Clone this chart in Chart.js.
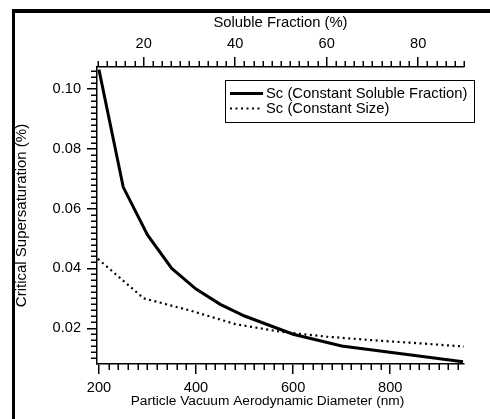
<!DOCTYPE html>
<html>
<head>
<meta charset="utf-8">
<script src="https://cdn.jsdelivr.net/npm/chart.js@4/dist/chart.umd.min.js"></script>
<style>
  html,body{margin:0;padding:0;background:#fff;}
  #wrap{position:relative;width:490px;height:419px;}
  #frame{position:absolute;left:12px;top:9px;width:475px;height:406px;border-top:4px solid #000;border-left:3px solid #000;}
  canvas{position:absolute;left:0;top:0;}
</style>
</head>
<body>
<div id="wrap">
  <div id="frame"></div>
  <canvas id="c" width="490" height="419"></canvas>
</div>
<script>
// particle diameter (nm) -> Sc, constant soluble fraction
const diameters = [200, 250, 300, 350, 400, 450, 500, 600, 700, 950];
const scConstFraction = [0.1065, 0.0672, 0.0512, 0.0400, 0.0331, 0.0280, 0.0241, 0.0180, 0.0141, 0.0088];
// soluble fraction (%) -> Sc, constant size
const solubleFractions = [10, 20, 30, 40, 50, 60, 70, 80, 90];
const scConstSize = [0.0432, 0.0300, 0.0260, 0.0214, 0.0188, 0.0172, 0.0160, 0.0150, 0.0139];

const seriesLabels = ['Sc (Constant Soluble Fraction)', 'Sc (Constant Size)'];
const xTitle = 'Particle Vacuum Aerodynamic Diameter (nm)';

const xTicks = [200, 400, 600, 800];
const x2Ticks = [20, 40, 60, 80];
const yTicks = [0.02, 0.04, 0.06, 0.08, 0.10];

const FONT = 'Arial, "Liberation Sans", Helvetica, sans-serif';

// minor tick marks, drawn through the scales
const minorTicks = {
  id: 'minorTicks',
  afterDraw(chart){
    const ctx = chart.ctx, a = chart.chartArea;
    const sx = chart.scales.x, sx2 = chart.scales.x2, sy = chart.scales.y;
    ctx.save();
    ctx.strokeStyle = '#000'; ctx.lineWidth = 1.5;
    ctx.beginPath();
    for (let v = 200; v <= 940; v += 20) {
      if (v % 200 === 0) continue;
      const p = Math.round(sx.getPixelForValue(v)) + 0.25;
      ctx.moveTo(p, a.bottom); ctx.lineTo(p, a.bottom + 6);
    }
    for (let v = 10; v <= 90; v += 2) {
      if (v % 20 === 0) continue;
      const p = Math.round(sx2.getPixelForValue(v)) + 0.25;
      ctx.moveTo(p, a.top); ctx.lineTo(p, a.top - 6);
    }
    for (let i = 5; i <= 53; i++) {
      if (i % 10 === 0) continue;
      const p = Math.round(sy.getPixelForValue(i * 0.002)) + 0.25;
      ctx.moveTo(a.left, p); ctx.lineTo(a.left - 6, p);
    }
    ctx.stroke();

    // bottom axis title sits a little left of centre in the original
    ctx.font = '13.7px ' + FONT;
    ctx.fillStyle = '#000';
    ctx.textAlign = 'center';
    ctx.textBaseline = 'middle';
    ctx.fillText(xTitle, (a.left + a.right) / 2 - 13, sx.bottom - 17.5);
    ctx.restore();
  }
};

// boxed legend in the upper right
const boxLegend = {
  id: 'boxLegend',
  afterDraw(chart){
    const ctx = chart.ctx;
    const x0 = 225, y0 = 80, w = 249, h = 42;
    ctx.save();
    ctx.fillStyle = '#fff';
    ctx.fillRect(x0, y0, w, h);
    ctx.strokeStyle = '#000'; ctx.lineWidth = 1;
    ctx.strokeRect(x0 + 0.5, y0 + 0.5, w, h);
    ctx.font = '14.8px ' + FONT;
    ctx.textBaseline = 'middle';
    ctx.fillStyle = '#000';
    chart.data.datasets.forEach((ds, i) => {
      const y = y0 + 13.5 + i * 15;
      ctx.beginPath();
      ctx.lineWidth = ds.borderWidth;
      ctx.setLineDash(ds.borderDash || []);
      ctx.moveTo(x0 + 5, y); ctx.lineTo(x0 + 38, y);
      ctx.stroke();
      ctx.setLineDash([]);
      ctx.fillText(ds.label, x0 + 41, y);
    });
    ctx.restore();
  }
};

const axisCommon = {
  type: 'linear',
  border: {display: true, color: '#000', width: 1.5},
  grid: {drawOnChartArea: false, drawTicks: true, tickLength: 10, color: '#000', lineWidth: 1.5},
  ticks: {color: '#000', font: {family: FONT, size: 14.6}}
};

new Chart(document.getElementById('c'), {
  type: 'line',
  data: {
    datasets: [
      {
        label: seriesLabels[0],
        data: diameters.map((d, i) => ({x: d, y: scConstFraction[i]})),
        xAxisID: 'x', yAxisID: 'y',
        borderColor: '#000', borderWidth: 3, pointRadius: 0, tension: 0, fill: false
      },
      {
        label: seriesLabels[1],
        data: solubleFractions.map((f, i) => ({x: f, y: scConstSize[i]})),
        xAxisID: 'x2', yAxisID: 'y',
        borderColor: '#000', borderWidth: 2.2, borderDash: [2, 3.5], pointRadius: 0, tension: 0, fill: false
      }
    ]
  },
  options: {
    responsive: false,
    animation: false,
    layout: {padding: {left: 0, right: 26, top: 0, bottom: 0}},
    plugins: {legend: {display: false}, tooltip: {enabled: false}},
    scales: {
      x: Object.assign({}, axisCommon, {
        position: 'bottom', min: 196, max: 952,
        afterBuildTicks: s => { s.ticks = xTicks.map(v => ({value: v})); },
        afterFit: s => { s.height = 55; },
        ticks: Object.assign({}, axisCommon.ticks, {padding: 5, maxRotation: 0})
      }),
      x2: Object.assign({}, axisCommon, {
        position: 'top', min: 9.8, max: 90,
        afterBuildTicks: s => { s.ticks = x2Ticks.map(v => ({value: v})); },
        afterFit: s => { s.height = 67; },
        ticks: Object.assign({}, axisCommon.ticks, {padding: 4, maxRotation: 0}),
        title: {display: true, text: 'Soluble Fraction (%)', color: '#000',
          font: {family: FONT, size: 14.8}, padding: {top: 14, bottom: 0}}
      }),
      y: Object.assign({}, axisCommon, {
        position: 'left', min: 0.00805, max: 0.10736,
        afterBuildTicks: s => { s.ticks = yTicks.map(v => ({value: v})); },
        afterFit: s => { s.width = 97; },
        ticks: Object.assign({}, axisCommon.ticks, {padding: 6, callback: v => v.toFixed(2)}),
        title: {display: true, text: 'Critical Supersaturation (%)', color: '#000',
          font: {family: FONT, size: 15}, padding: {top: 13, bottom: 0}}
      })
    }
  },
  plugins: [minorTicks, boxLegend]
});
</script>
</body>
</html>
